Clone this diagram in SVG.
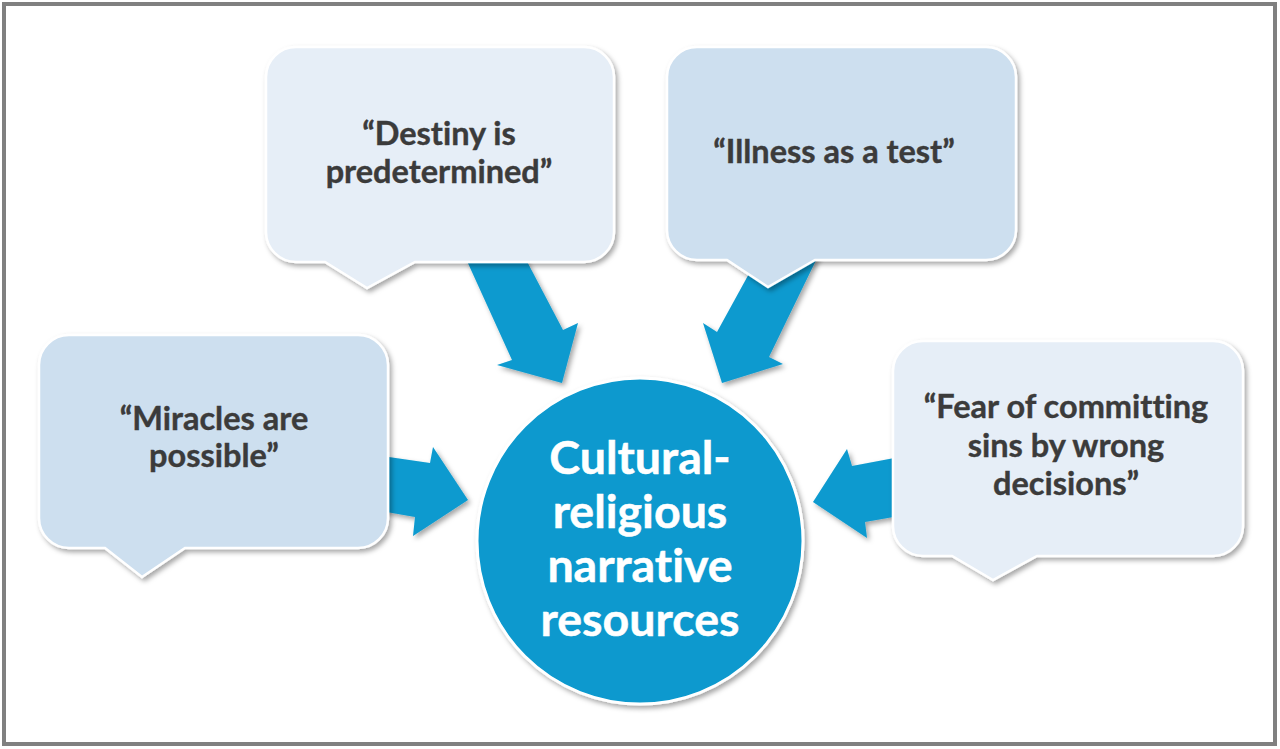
<svg xmlns="http://www.w3.org/2000/svg" width="1280" height="749" viewBox="0 0 1280 749">
  <defs>
    <filter id="sh" x="-20%" y="-20%" width="140%" height="140%">
      <feDropShadow dx="2.5" dy="3" stdDeviation="2.5" flood-color="#000" flood-opacity="0.35"/>
    </filter>
    <style>
      .bubble { stroke: #ffffff; stroke-width: 2.5; filter: url(#sh); }
      .light { fill: #e6eef7; }
      .dark { fill: #cddfef; }
      .arrow { fill: #0a9acf; filter: url(#sh); }
      .btxt { font-family: Lato, "Open Sans", sans-serif; font-weight: 700; font-size: 32.5px; fill: #3b3b3b; text-anchor: middle; font-variant-ligatures: none; stroke: #3b3b3b; stroke-width: 0.4; }
      .ctxt { font-family: Lato, "Open Sans", sans-serif; font-weight: 700; font-size: 46.5px; fill: #ffffff; text-anchor: middle; font-variant-ligatures: none; stroke: #ffffff; stroke-width: 0.5; }
    </style>
  </defs>
  <rect x="0" y="0" width="1280" height="749" fill="#ffffff"/>
  <rect x="4" y="4" width="1271" height="740" fill="#ffffff" stroke="#808080" stroke-width="4"/>

  <g id="connectors">
    <polygon class="arrow" points="462,250 512,360 497,365 562,383 578,323 563,330 521,250"/>
    <polygon class="arrow" points="762,250 717,332 703,323 722,383 783,364 769,357 821,250"/>
    <polygon class="arrow" points="375,455 430,463 433,447 468,500 413,536 415,517 375,510"/>
    <polygon class="arrow" points="905,456 852,466 847,449 813,502 867,538 865,522 905,515"/>
  </g>

  <g id="node-destiny">
    <path class="bubble light" d="M296,47 H584 A30,30 0 0 1 614,77 V232 A30,30 0 0 1 584,262 H415 L367,288 L325,262 H296 A30,30 0 0 1 266,232 V77 A30,30 0 0 1 296,47 Z"/>
    <text class="btxt" x="439" y="145">“Destiny is</text>
    <text class="btxt" x="439" y="183">predetermined”</text>
  </g>

  <g id="node-illness">
    <path class="bubble dark" d="M697,47 H986 A30,30 0 0 1 1016,77 V230 A30,30 0 0 1 986,260 H815 L768,287 L727,260 H697 A30,30 0 0 1 667,230 V77 A30,30 0 0 1 697,47 Z"/>
    <text class="btxt" x="834" y="163">“Illness as a test”</text>
  </g>

  <g id="node-miracles">
    <path class="bubble dark" d="M69,335 H358 A30,30 0 0 1 388,365 V518 A30,30 0 0 1 358,548 H185 L142,577 L105,548 H69 A30,30 0 0 1 39,518 V365 A30,30 0 0 1 69,335 Z"/>
    <text class="btxt" x="214" y="430">“Miracles are</text>
    <text class="btxt" x="214" y="467">possible”</text>
  </g>

  <g id="node-fear">
    <path class="bubble light" d="M923,341 H1213 A30,30 0 0 1 1243,371 V526 A30,30 0 0 1 1213,556 H1037 L993,580 L952,556 H923 A30,30 0 0 1 893,526 V371 A30,30 0 0 1 923,341 Z"/>
    <text class="btxt" x="1066" y="418">“Fear of committing</text>
    <text class="btxt" x="1066" y="457">sins by wrong</text>
    <text class="btxt" x="1066" y="495">decisions”</text>
  </g>

  <g id="node-center">
    <circle cx="640" cy="541" r="163" fill="#0899ce" stroke="#ffffff" stroke-width="3" filter="url(#sh)"/>
    <text class="ctxt" x="640" y="474">Cultural-</text>
    <text class="ctxt" x="640" y="528">religious</text>
    <text class="ctxt" x="640" y="582">narrative</text>
    <text class="ctxt" x="640" y="636">resources</text>
  </g>
</svg>
